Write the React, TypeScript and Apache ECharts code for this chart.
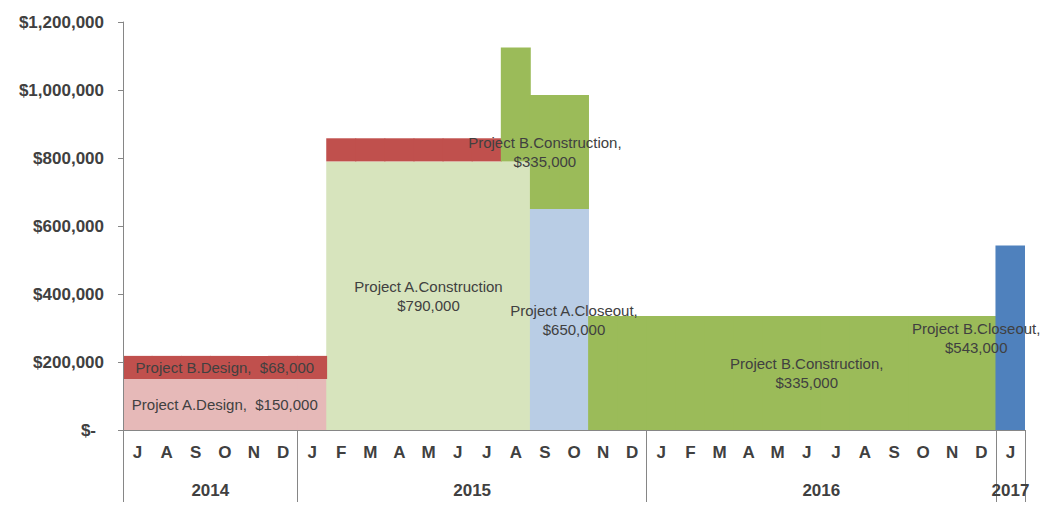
import React, { useEffect, useRef } from 'react';
import * as echarts from 'echarts';

const monthLabels = [
  'J', 'A', 'S', 'O', 'N', 'D',
  'J', 'F', 'M', 'A', 'M', 'J', 'J', 'A', 'S', 'O', 'N', 'D',
  'J', 'F', 'M', 'A', 'M', 'J', 'J', 'A', 'S', 'O', 'N', 'D',
  'J',
];
const yearLabels = ['2014', '2015', '2016', '2017'];
const monthsPerYear = [6, 12, 12, 1];

const _ = null;
// Jul 2014 .. Jan 2017 (31 months)
const projectADesign = [150000, 150000, 150000, 150000, 150000, 150000, 150000, _, _, _, _, _, _, _, _, _, _, _, _, _, _, _, _, _, _, _, _, _, _, _, _];
const projectAConstruction = [_, _, _, _, _, _, _, 790000, 790000, 790000, 790000, 790000, 790000, 790000, _, _, _, _, _, _, _, _, _, _, _, _, _, _, _, _, _];
const projectACloseout = [_, _, _, _, _, _, _, _, _, _, _, _, _, _, 650000, 650000, _, _, _, _, _, _, _, _, _, _, _, _, _, _, _];
const projectBDesign = [68000, 68000, 68000, 68000, 68000, 68000, 68000, 68000, 68000, 68000, 68000, 68000, 68000, _, _, _, _, _, _, _, _, _, _, _, _, _, _, _, _, _, _];
const projectBConstruction = [_, _, _, _, _, _, _, _, _, _, _, _, _, 335000, 335000, 335000, 335000, 335000, 335000, 335000, 335000, 335000, 335000, 335000, 335000, 335000, 335000, 335000, 335000, 335000, _];
const projectBCloseout = [_, _, _, _, _, _, _, _, _, _, _, _, _, _, _, _, _, _, _, _, _, _, _, _, _, _, _, _, _, _, 543000];

const seriesNames = ['Project A.Design', 'Project A.Construction', 'Project A.Closeout', 'Project B.Design', 'Project B.Construction', 'Project B.Closeout'];
const seriesValues = [projectADesign, projectAConstruction, projectACloseout, projectBDesign, projectBConstruction, projectBCloseout];
const seriesColors = ['#E6B9B8', '#D7E4BD', '#B9CDE5', '#C0504D', '#9BBB59', '#4F81BD'];

const dataLabels = [
  { series: 'Project A.Design', index: 3, text: 'Project A.Design,  $150,000' },
  { series: 'Project B.Design', index: 3, text: 'Project B.Design,  $68,000' },
  { series: 'Project A.Construction', index: 10, text: 'Project A.Construction\n$790,000' },
  { series: 'Project A.Closeout', index: 15, text: 'Project A.Closeout,\n$650,000' },
  { series: 'Project B.Construction', index: 14, text: 'Project B.Construction,\n$335,000' },
  { series: 'Project B.Construction', index: 23, text: 'Project B.Construction,\n$335,000' },
  { series: 'Project B.Closeout', index: 30, text: 'Project B.Closeout,\n$543,000', shift: -34 },
];

const FONT = '"Liberation Sans", Arial, sans-serif';
const AXIS_COLOR = '#868686';
const TEXT_COLOR = '#404040';

export default function App() {
  const ref = useRef<HTMLDivElement>(null);
  useEffect(() => {
    if (!ref.current) return;
    const chart = echarts.init(ref.current, null, { renderer: 'svg' });

    const boundaries: number[] = [0];
    monthsPerYear.forEach((n) => boundaries.push(boundaries[boundaries.length - 1] + n));
    const yearCenters = monthsPerYear.map((n, i) => boundaries[i] + n / 2);

    const series = seriesNames.map((name, si) => ({
      name,
      type: 'bar',
      stack: 'total',
      barWidth: '103%',
      xAxisIndex: 0,
      yAxisIndex: 0,
      itemStyle: { color: seriesColors[si], borderWidth: 0 },
      data: seriesValues[si].map((v, i) => {
        const spec = dataLabels.find((d) => d.series === name && d.index === i);
        if (!spec || v == null) return v;
        return {
          value: v,
          label: {
            show: true,
            position: 'inside',
            formatter: spec.text,
            offset: [spec.shift || 0, 0],
            color: TEXT_COLOR,
            fontFamily: FONT,
            fontSize: 15,
            lineHeight: 19,
            align: 'center',
          },
        };
      }),
    }));

    chart.setOption({
      animation: false,
      backgroundColor: '#ffffff',
      grid: { left: 123, right: 22, top: 22, bottom: 83, containLabel: false },
      xAxis: [
        {
          type: 'category',
          data: monthLabels,
          position: 'bottom',
          boundaryGap: true,
          z: 5,
          axisLine: { show: true, lineStyle: { color: AXIS_COLOR, width: 1 } },
          axisTick: { show: false },
          axisLabel: { interval: 0, margin: 14, color: TEXT_COLOR, fontFamily: FONT, fontSize: 17, fontWeight: 'bold' },
          splitLine: { show: false },
        },
        {
          type: 'value',
          min: 0,
          max: boundaries[boundaries.length - 1],
          position: 'bottom',
          axisLine: { show: false },
          splitLine: { show: false },
          axisTick: { show: true, customValues: boundaries, length: 72, lineStyle: { color: AXIS_COLOR, width: 1 } },
          axisLabel: {
            show: true,
            customValues: yearCenters,
            margin: 52,
            color: TEXT_COLOR,
            fontFamily: FONT,
            fontSize: 17,
            fontWeight: 'bold',
            formatter: (v: number) => {
              const k = yearCenters.findIndex((c) => Math.abs(c - v) < 1e-6);
              return k >= 0 ? yearLabels[k] : '';
            },
          },
        },
      ],
      yAxis: {
        type: 'value',
        min: 0,
        max: 1200000,
        interval: 200000,
        z: 5,
        axisLine: { show: true, lineStyle: { color: AXIS_COLOR, width: 1 } },
        axisTick: { show: true, length: 5, lineStyle: { color: AXIS_COLOR } },
        splitLine: { show: false },
        axisLabel: {
          margin: 19,
          color: TEXT_COLOR,
          fontFamily: FONT,
          fontSize: 17,
          fontWeight: 'bold',
          formatter: (v: number) => (v === 0 ? '{z|$-}' : '{a|$' + v.toLocaleString('en-US') + '}'),
          rich: {
            a: { color: TEXT_COLOR, fontFamily: FONT, fontSize: 17, fontWeight: 'bold' },
            z: { color: TEXT_COLOR, fontFamily: FONT, fontSize: 17, fontWeight: 'bold', padding: [0, 8, 0, 0] },
          },
        },
      },
      series,
    });
    return () => chart.dispose();
  }, []);
  return <div ref={ref} style={{ position: 'fixed', left: 0, top: 0, width: 1047, height: 513 }} />;
}
